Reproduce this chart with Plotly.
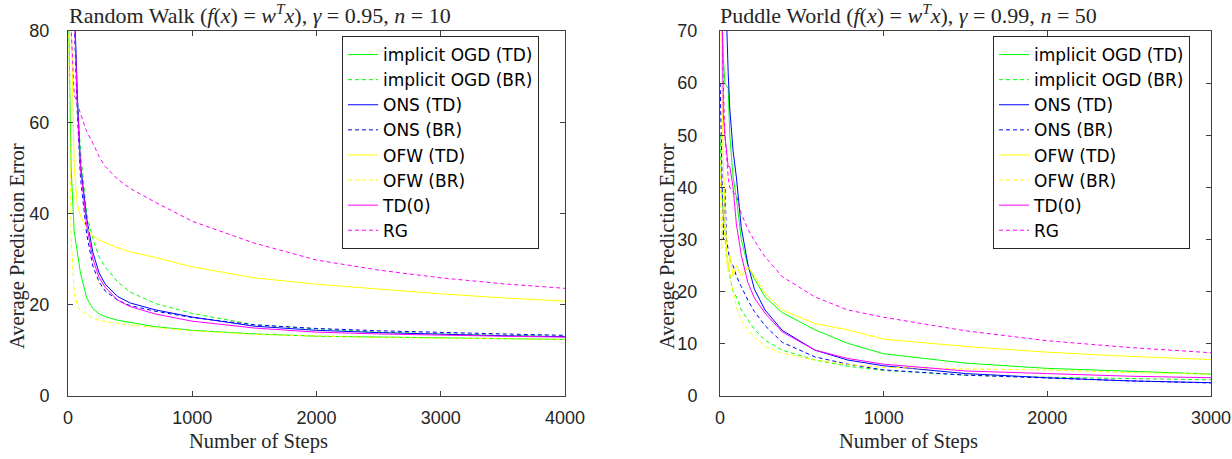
import plotly.graph_objects as go

# ---------------- data: Random Walk ----------------
rw_steps = [1, 25, 50, 75, 100, 150, 200, 250, 300, 400, 500, 700, 1000, 1500, 2000, 2500, 3000, 3500, 4000]
rw_iogd_td = [90, 50, 36, 31, 27, 21.5, 19.2, 18, 17.4, 16.6, 16.1, 15.2, 14.4, 13.6, 13.1, 12.9, 12.7, 12.6, 12.4]
rw_iogd_br = [150, 118, 85, 66, 54, 40, 34.5, 30.5, 28.3, 25, 22.8, 20.3, 18.1, 15.6, 14.7, 14.0, 13.6, 13.3, 13.1]
rw_ons_td = [150, 120, 88, 66, 51, 39, 31.5, 27, 24.5, 21.8, 20.4, 18.9, 17.3, 15.3, 14.4, 13.9, 13.5, 13.2, 13.0]
rw_ons_br = [150, 115, 82, 62, 48, 35.5, 28.5, 25, 23, 21, 19.8, 18.6, 17.2, 15.6, 14.8, 14.3, 13.9, 13.6, 13.3]
rw_ofw_td = [100, 85, 50, 42, 39.5, 37, 35, 34.2, 33.6, 32.5, 31.6, 30.4, 28.3, 25.9, 24.5, 23.4, 22.4, 21.5, 20.8]
rw_ofw_br = [90, 35, 22.5, 20, 18.8, 17.8, 17.1, 16.6, 16.3, 15.9, 15.6, 15.0, 14.3, 13.5, 13.1, 12.8, 12.7, 12.5, 12.4]
rw_td0 = [150, 118, 85, 64, 50, 37.5, 30, 26, 23.8, 21, 19.6, 18.0, 16.4, 14.9, 14.0, 13.6, 13.3, 13.1, 12.9]
rw_rg = [95, 80, 66, 64, 62, 58, 55.4, 52.5, 50.3, 47.5, 45.5, 42.5, 38.3, 33.5, 29.8, 27.6, 25.9, 24.6, 23.6]

# ---------------- data: Puddle World ----------------
pw_steps = [1, 10, 20, 30, 40, 50, 60, 80, 100, 130, 170, 210, 275, 380, 580, 780, 1000, 1500, 2000, 2500, 3000]
pw_iogd_td = [100, 75, 65, 60, 59.5, 59, 50, 42, 38, 30, 25, 22.5, 19, 16, 12.7, 10.1, 8.1, 6.3, 5.3, 4.7, 4.2]
pw_iogd_br = [50, 40, 35, 30, 27, 25, 23, 20, 19, 16.5, 14.6, 12.8, 10.7, 8.8, 6.9, 5.7, 4.9, 4.0, 3.6, 3.3, 3.1]
pw_ons_td = [150, 130, 110, 90, 72, 62, 55, 47, 42, 32.3, 25.3, 20.5, 16.5, 12.6, 8.8, 6.9, 5.8, 4.3, 3.5, 2.9, 2.55]
pw_ons_br = [60, 45, 30, 40, 30, 28, 26, 25, 23, 21, 18.4, 16.2, 13.5, 10.3, 7.5, 6.1, 5.0, 4.0, 3.4, 2.9, 2.5]
pw_ofw_td = [90, 60, 45, 35, 28, 24, 27, 23, 25, 23, 24.8, 23, 19.7, 16.5, 13.9, 12.7, 10.9, 9.5, 8.4, 7.6, 7.0]
pw_ofw_br = [45, 28, 38, 30, 26, 24, 23.4, 20, 17, 14.6, 12.7, 11.3, 9.5, 8.2, 6.9, 6.0, 5.5, 5.2, 5.0, 4.5, 4.2]
pw_td0 = [120, 80, 54, 50, 47, 44, 44, 40, 33, 27, 21.8, 18.8, 15.9, 12.3, 8.8, 7.2, 6.1, 4.8, 4.3, 3.8, 3.5]
pw_rg = [90, 75, 60, 50, 45, 42, 40, 39, 38.5, 35, 32, 29.8, 26.7, 22.9, 19, 16.5, 15.1, 12.5, 10.6, 9.3, 8.3]

names = ["implicit OGD (TD)", "implicit OGD (BR)", "ONS (TD)", "ONS (BR)",
         "OFW (TD)", "OFW (BR)", "TD(0)", "RG"]
colors = ["#00FF00", "#00FF00", "#0000FF", "#0000FF", "#FFFF00", "#FFFF00", "#FF00FF", "#FF00FF"]
dashes = ["solid", "4px,3px", "solid", "4px,3px", "solid", "4px,3px", "solid", "4px,3px"]

rw_series = [rw_iogd_td, rw_iogd_br, rw_ons_td, rw_ons_br, rw_ofw_td, rw_ofw_br, rw_td0, rw_rg]
pw_series = [pw_iogd_td, pw_iogd_br, pw_ons_td, pw_ons_br, pw_ofw_td, pw_ofw_br, pw_td0, pw_rg]

W, H = 1232, 459


def px(x):
    return x / W


def py(y):
    return 1 - y / H


fig = go.Figure()

for i, ys in enumerate(rw_series):
    fig.add_trace(go.Scatter(x=rw_steps, y=ys, mode="lines", name=names[i],
                             line=dict(color=colors[i], width=1, dash=dashes[i]),
                             xaxis="x", yaxis="y", legend="legend"))
for i, ys in enumerate(pw_series):
    fig.add_trace(go.Scatter(x=pw_steps, y=ys, mode="lines", name=names[i],
                             line=dict(color=colors[i], width=1, dash=dashes[i]),
                             xaxis="x2", yaxis="y2", legend="legend2"))

axcol = "#404040"
tickfont = dict(family="Liberation Sans, Arial, sans-serif", size=18, color="#262626")
common = dict(showgrid=False, zeroline=False, showline=True, linecolor=axcol, linewidth=1,
              mirror="ticks", ticks="inside", ticklen=5, tickcolor=axcol, tickwidth=1,
              tickfont=tickfont, automargin=False)

legfont = dict(family="DejaVu Sans, Liberation Sans, sans-serif", size=17, color="black")
fig.update_layout(
    width=W, height=H,
    template="none",
    margin=dict(l=0, r=0, t=0, b=0, autoexpand=False),
    paper_bgcolor="white", plot_bgcolor="white",
    xaxis=dict(domain=[px(68), px(565)], range=[0, 4000], dtick=1000, anchor="y",
               ticklabelstandoff=5, **common),
    yaxis=dict(domain=[py(396), py(31)], range=[0, 80], dtick=20, anchor="x", ticklabelstandoff=14, **common),
    xaxis2=dict(domain=[px(720), px(1211)], range=[0, 3000], dtick=1000, anchor="y2",
                ticklabelstandoff=5, **common),
    yaxis2=dict(domain=[py(396), py(31)], range=[0, 70], dtick=10, anchor="x2", ticklabelstandoff=18, **common),
    legend=dict(x=px(539), y=py(36), xanchor="right", yanchor="top",
                bgcolor="white", bordercolor="#262626", borderwidth=1,
                font=legfont, tracegroupgap=0, itemwidth=30),
    legend2=dict(x=px(1190), y=py(36), xanchor="right", yanchor="top",
                 bgcolor="white", bordercolor="#262626", borderwidth=1,
                 font=legfont, tracegroupgap=0, itemwidth=30),
    showlegend=True,
)

serif = dict(family="Liberation Serif, Times New Roman, serif", size=20.5, color="#262626")
title_font = dict(family="Liberation Serif, Times New Roman, serif", size=22, color="#262626")
ann = [
    dict(text="Random Walk (<i>f</i>(<i>x</i>) = <i>w</i><sup><i>T</i></sup><i>x</i>), <i>γ</i> = 0.95, <i>n</i> = 10",
         x=px(260), y=py(14), font=title_font),
    dict(text="Puddle World (<i>f</i>(<i>x</i>) = <i>w</i><sup><i>T</i></sup><i>x</i>), <i>γ</i> = 0.99, <i>n</i> = 50",
         x=px(908), y=py(14), font=title_font),
    dict(text="Number of Steps", x=px(258), y=py(441), font=serif),
    dict(text="Number of Steps", x=px(908), y=py(441), font=serif),
]
for a in ann:
    fig.add_annotation(xref="paper", yref="paper", showarrow=False, xanchor="center", yanchor="middle", **a)
for xc in [17, 667]:
    fig.add_annotation(text="Average Prediction Error", xref="paper", yref="paper", showarrow=False,
                       x=px(xc), y=py(246), textangle=-90, xanchor="center", yanchor="middle",
                       font=serif)

# remove the default 8px page margin so the figure fills the window exactly
fig.write_html("out.html", config={"displayModeBar": False},
               post_script="document.body.style.margin='0px';")
